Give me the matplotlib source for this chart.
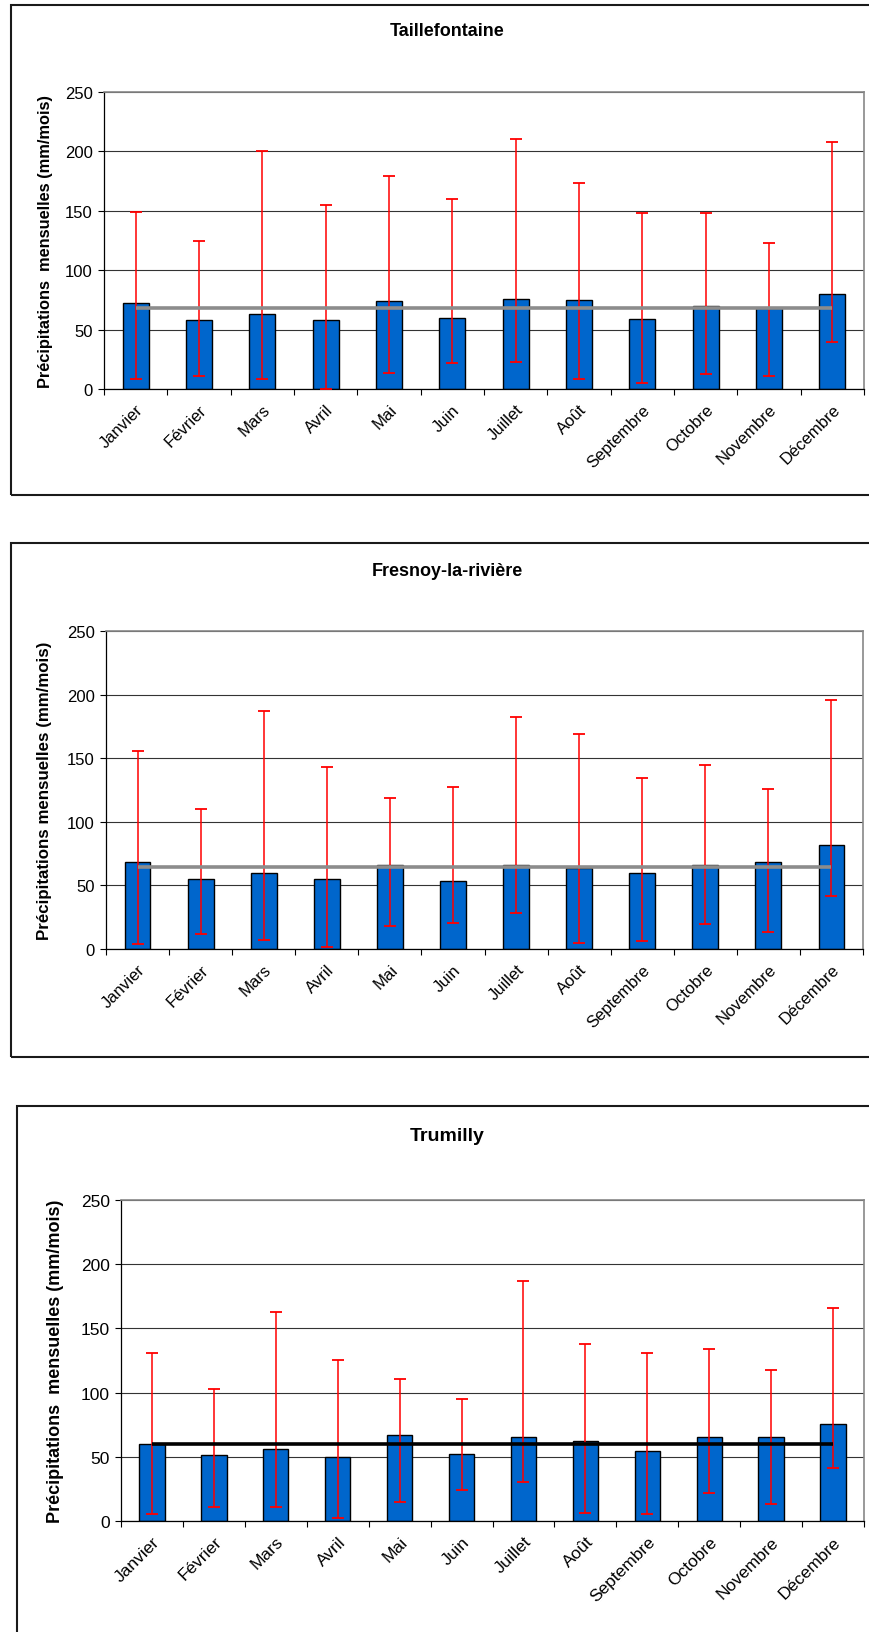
import numpy as np
import matplotlib
matplotlib.use('Agg')
import matplotlib.pyplot as plt
from matplotlib.patches import Rectangle

plt.rcParams['font.family'] = ['Liberation Sans', 'DejaVu Sans']

W, H = 869, 1633

mois = ['Janvier', 'Février', 'Mars', 'Avril', 'Mai', 'Juin', 'Juillet',
        'Août', 'Septembre', 'Octobre', 'Novembre', 'Décembre']

# Taillefontaine : moyenne, minimum et maximum mensuels (mm/mois)
taille_moy = [72.5, 57.9, 63.2, 57.9, 73.9, 59.6, 76.0, 74.6, 59.1, 69.8, 68.0, 80.0]
taille_min = [8.0, 11.0, 8.0, 0.0, 13.5, 21.5, 22.5, 8.0, 5.0, 13.0, 10.7, 39.4]
taille_max = [149.4, 124.7, 200.5, 154.5, 179.5, 159.8, 210.5, 173.0, 148.0, 148.0, 123.0, 208.3]
taille_annuel = 68.2

# Fresnoy-la-rivière
fresnoy_moy = [68.6, 55.3, 60.0, 55.3, 66.1, 53.7, 66.1, 64.0, 60.0, 66.1, 68.6, 81.8]
fresnoy_min = [3.6, 12.1, 7.4, 1.4, 18.2, 20.4, 28.1, 4.7, 5.9, 19.5, 13.3, 41.3]
fresnoy_max = [155.6, 110.1, 187.5, 143.2, 118.7, 127.3, 182.4, 169.1, 134.5, 144.5, 125.8, 196.0]
fresnoy_annuel = 64.8

# Trumilly
trumilly_moy = [60.1, 51.1, 56.1, 49.5, 66.7, 52.4, 65.7, 62.0, 54.8, 65.7, 65.7, 75.2]
trumilly_min = [5.3, 10.9, 10.9, 2.6, 14.6, 24.1, 30.7, 6.4, 5.3, 21.5, 13.5, 41.6]
trumilly_max = [131.1, 103.0, 162.9, 125.5, 110.7, 94.8, 187.2, 137.7, 131.1, 133.7, 117.8, 165.5]
trumilly_annuel = 60.1


def fx(px):
    return px / W


def fy(py):
    return 1 - py / H


def panneau(fig, boite, cadre, titre, titre_y, ylabel, ylabel_x,
            moy, mn, mx, annuel, coul_moy, fs_tick, fs_lab, fs_titre):
    # cadre du graphique
    x0, y0, x1, y1 = cadre
    fig.add_artist(Rectangle((fx(x0), fy(y1)), fx(x1) - fx(x0), fy(y0) - fy(y1),
                             transform=fig.transFigure, fill=False,
                             edgecolor='#1a1a1a', linewidth=1.5, clip_on=False))
    fig.text(fx(447), fy(titre_y), titre, ha='center', va='center',
             fontsize=fs_titre, fontweight='bold')

    l, t, r, b = boite
    ax = fig.add_axes([fx(l), fy(b), fx(r) - fx(l), fy(t) - fy(b)])
    x = np.arange(12)
    moy = np.array(moy)
    err = [moy - np.array(mn), np.array(mx) - moy]

    ax.bar(x, moy, width=0.41, color='#0066CC', edgecolor='black',
           linewidth=1.0, zorder=2)
    ax.errorbar(x, moy, yerr=err, fmt='none', ecolor='#FF0000',
                elinewidth=1.1, capsize=4.5, capthick=1.3, zorder=3)
    ax.plot([0, 11], [annuel, annuel], color=coul_moy, linewidth=2.6,
            solid_capstyle='butt', zorder=4)

    ax.set_xlim(-0.5, 11.5)
    ax.set_ylim(0, 250)
    ax.set_yticks(range(0, 251, 50))
    ax.yaxis.grid(True, color='#333333', linewidth=0.8, zorder=0)
    ax.set_axisbelow(True)

    ax.set_xticks(x)
    ax.set_xticklabels(mois, rotation=45, ha='right', rotation_mode='anchor',
                       fontsize=fs_tick)
    ax.set_xticks(np.arange(-0.5, 12, 1), minor=True)
    ax.tick_params(axis='x', which='major', length=0, pad=9)
    ax.tick_params(axis='x', which='minor', length=4, width=0.8, direction='out')
    ax.tick_params(axis='y', length=4, width=0.8, labelsize=fs_tick, pad=4)

    for s in ('top', 'right'):
        ax.spines[s].set_color('#888888')
        ax.spines[s].set_linewidth(1.2)
    for s in ('left', 'bottom'):
        ax.spines[s].set_color('black')
        ax.spines[s].set_linewidth(0.9)

    fig.text(fx(ylabel_x), (fy(t) + fy(b)) / 2, ylabel, rotation=90,
             ha='center', va='center', fontsize=fs_lab, fontweight='bold')
    return ax


fig = plt.figure(figsize=(W / 100, H / 100), dpi=100)

panneau(fig, (104, 93, 864, 390), (11, 6, 885, 496), 'Taillefontaine', 31,
        'Précipitations  mensuelles (mm/mois)', 46,
        taille_moy, taille_min, taille_max, taille_annuel, '#8c8c8c',
        12, 11.8, 13)

panneau(fig, (106, 632, 863, 950), (11, 544, 885, 1058), 'Fresnoy-la-rivière', 572,
        'Précipitations mensuelles (mm/mois)', 45,
        fresnoy_moy, fresnoy_min, fresnoy_max, fresnoy_annuel, '#8c8c8c',
        12, 12.2, 13)

panneau(fig, (121, 1201, 864, 1522), (17, 1107, 885, 1650), 'Trumilly', 1137,
        'Précipitations  mensuelles (mm/mois)', 55,
        trumilly_moy, trumilly_min, trumilly_max, trumilly_annuel, 'black',
        12.5, 13, 14)

fig.savefig('out.png', dpi=100)
